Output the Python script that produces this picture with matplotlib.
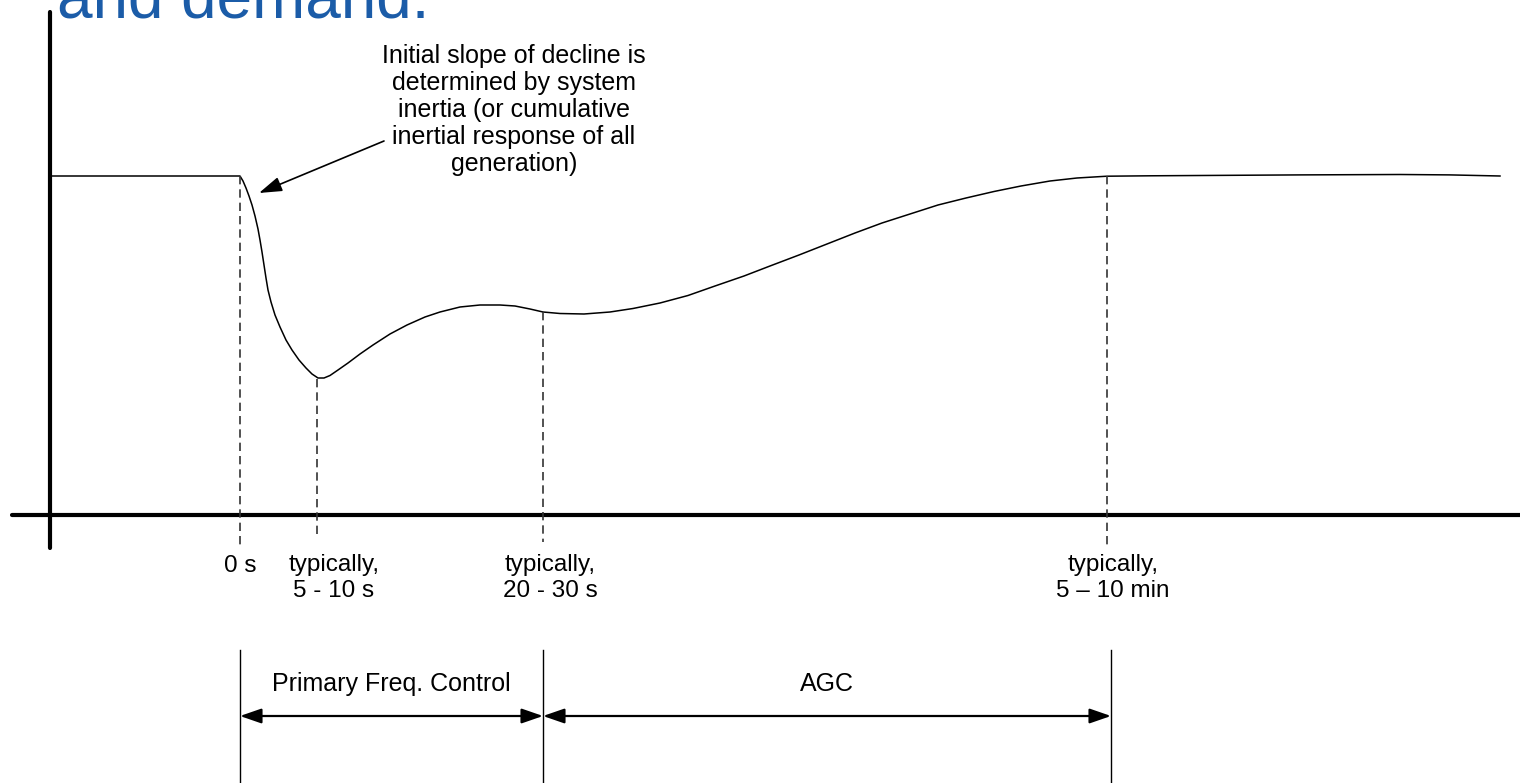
import matplotlib
matplotlib.use("Agg")
import matplotlib.pyplot as plt

# schematic frequency response (x: time position, y: drawing level, down = lower freq)
curve_t = [52, 240, 243, 246, 249, 252, 255, 258, 260, 262, 264, 266, 268, 271, 275, 280, 286,
           292, 299, 306, 312, 318, 324, 330, 338, 348, 360, 373, 390, 407, 425, 440, 460,
           480, 500, 515, 530, 543, 560, 584, 610, 633, 660, 688, 715, 744, 770, 799, 827,
           855, 882, 910, 938, 966, 994, 1021, 1050, 1077, 1107, 1150, 1200, 1300, 1400, 1450, 1500]
curve_f = [176, 176, 181, 188, 196, 205, 216, 229, 240, 252, 265, 278, 290, 302, 315, 327, 340,
           350, 360, 368, 374, 378, 378, 375.5, 370, 363, 354, 345, 334, 325, 317, 312, 307,
           305, 305, 306, 309, 312, 313.5, 314, 312, 308.5, 303, 295.5, 286, 276, 266, 255, 244,
           233, 223, 214, 205, 198, 191.5, 186, 181, 178, 176.2, 175.8, 175.5, 174.9, 174.5, 174.9, 176]

# event markers (dashed drop lines) and their labels
event_t = [240, 317, 543, 1107]
event_top = [176, 379, 312, 176]
event_bottom = [548, 537, 542, 548]
event_labels = ["0 s", "typically,\n5 - 10 s", "typically,\n20 - 30 s", "typically,\n5 \u2013 10 min"]
label_x = [240, 334, 550, 1113]
label_y = [566, 578, 578, 578]

# control bands at the bottom
band_edges = [240, 543, 1111]
band_names = ["Primary Freq. Control", "AGC"]

note_text = ("Initial slope of decline is\ndetermined by system\ninertia (or cumulative\n"
             "inertial response of all\ngeneration)")

plt.rcParams["font.family"] = ["Liberation Sans", "DejaVu Sans"]

fig = plt.figure(figsize=(15.2, 7.83), dpi=100)
ax = fig.add_axes([0, 0, 1, 1])
ax.set_xlim(0, 1520)
ax.set_ylim(783, 0)
ax.axis("off")

# title fragment, cut at the top like the slide
ax.text(57, 18, "and demand.", color="#1b5ca8", fontsize=46, ha="left", va="baseline")

# axes of the sketch
ax.plot([50, 50], [12, 548], color="black", lw=3, solid_capstyle="round")
ax.plot([12, 1520], [515, 515], color="black", lw=3, solid_capstyle="round")

# response curve
ax.plot(curve_t, curve_f, color="black", lw=1.1, solid_joinstyle="round")

# dashed drop lines + labels
for t, top, bot in zip(event_t, event_top, event_bottom):
    ax.plot([t, t], [top, bot], color="#333333", lw=1.2, dashes=(5, 3))
for x, y, s in zip(label_x, label_y, event_labels):
    ax.text(x, y, s, ha="center", va="center", fontsize=17.5, linespacing=1.25)

# annotation with arrow
ax.text(514, 110, note_text, ha="center", va="center", fontsize=18, linespacing=1.15,
        multialignment="center")
ax.annotate("", xy=(259, 193), xytext=(384, 141),
            arrowprops=dict(arrowstyle="-|>,head_length=1.4,head_width=0.45",
                            mutation_scale=10, color="black", lw=1.2,
                            shrinkA=0, shrinkB=0))

# bottom bands
for x in band_edges:
    ax.plot([x, x], [650, 783], color="black", lw=1.0)
for i, name in enumerate(band_names):
    x0, x1 = band_edges[i], band_edges[i + 1]
    ax.annotate("", xy=(x1, 716), xytext=(x0, 716),
                arrowprops=dict(arrowstyle="<|-|>,head_length=1.3,head_width=0.45",
                                mutation_scale=10, color="black", lw=1.6,
                                shrinkA=0, shrinkB=0))
    ax.text((x0 + x1) / 2, 684, name, ha="center", va="center", fontsize=18)

fig.savefig("out.png", dpi=100)
